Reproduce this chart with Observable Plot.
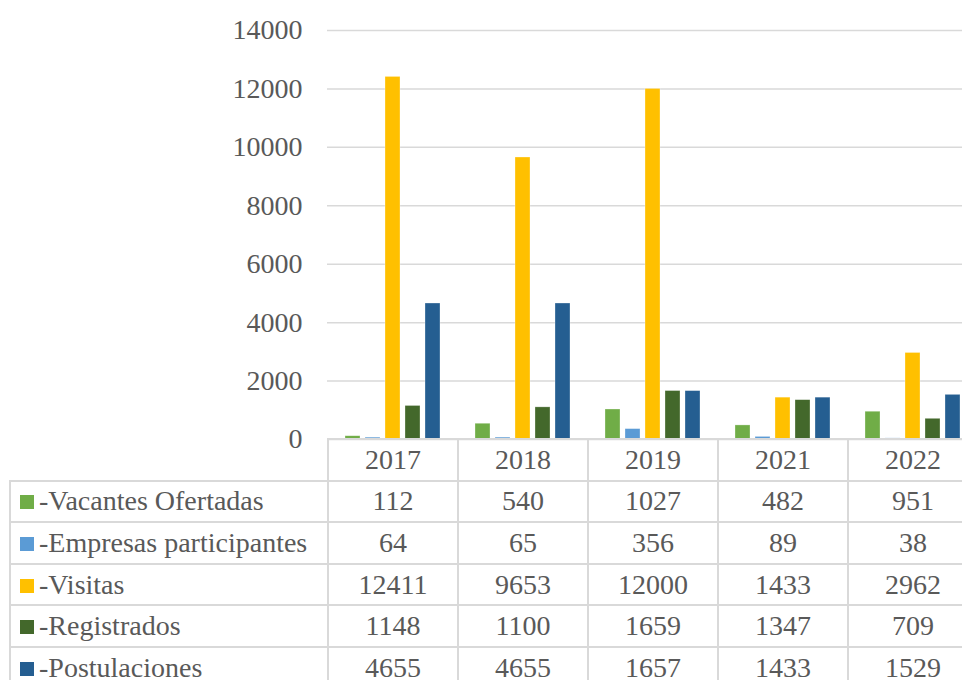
<!DOCTYPE html>
<html>
<head>
<meta charset="utf-8">
<script src="https://cdn.jsdelivr.net/npm/d3@7"></script>
<script src="https://cdn.jsdelivr.net/npm/@observablehq/plot@0.6"></script>
<style>
  html, body { margin: 0; padding: 0; background: #fff; overflow: hidden; width: 962px; height: 680px; }
  #wrap { position: relative; width: 962px; height: 680px; overflow: hidden; }
  #chart { position: absolute; left: 0; top: 0; width: 977px; }
  #chart svg { max-width: none !important; }
  table { position: absolute; left: 9px; top: 438px; width: 968px; border-collapse: collapse;
          font-family: "Liberation Serif", Tinos, "Times New Roman", "DejaVu Serif", serif; font-size: 28px; color: #595959; table-layout: fixed; }
  tr { height: 41.6px; }
  td { border: 2px solid #D9D9D9; padding: 0; text-align: center; white-space: nowrap; line-height: 1; }
  td.lab { text-align: left; padding-left: 9px; }
  td.blank { border: none; border-bottom: 2px solid #D9D9D9; }
  .sw { display: inline-block; width: 14px; height: 14px; margin-right: 5px; vertical-align: 1px; }
</style>
</head>
<body>
<div id="wrap">
  <div id="chart"></div>
  <table id="tbl"></table>
</div>
<script>
const years = ["2017", "2018", "2019", "2021", "2022"];
const seriesNames = ["-Vacantes Ofertadas", "-Empresas participantes", "-Visitas", "-Registrados", "-Postulaciones"];
const seriesColors = ["#70AD47", "#5B9BD5", "#FFC000", "#43682B", "#255E91"];
const vacantes = [112, 540, 1027, 482, 951];
const empresas = [64, 65, 356, 89, 38];
const visitas = [12411, 9653, 12000, 1433, 2962];
const registrados = [1148, 1100, 1659, 1347, 709];
const postulaciones = [4655, 4655, 1657, 1433, 1529];
const yTicks = [0, 2000, 4000, 6000, 8000, 10000, 12000, 14000];

const seriesValues = [vacantes, empresas, visitas, registrados, postulaciones];
const data = [];
years.forEach((yr, i) => {
  seriesNames.forEach((s, j) => data.push({year: yr, series: s, value: seriesValues[j][i]}));
});

const serif = "'Liberation Serif', Tinos, 'Times New Roman', 'DejaVu Serif', serif";
const chart = Plot.plot({
  width: 977,
  height: 440,
  marginLeft: 327,
  marginRight: 0,
  marginTop: 30,
  marginBottom: 1,
  style: {fontFamily: serif, fontSize: "28px", color: "#595959", background: "white", overflow: "visible", maxWidth: "none"},
  fx: {domain: years, padding: 0, axis: null},
  x: {domain: seriesNames, paddingInner: 0.25, paddingOuter: 0.875, axis: null},
  y: {domain: [0, 14000], axis: null},
  color: {domain: seriesNames, range: seriesColors},
  marks: [
    Plot.ruleY(yTicks, {stroke: "#D9D9D9", strokeWidth: 1.5, facet: "exclude"}),
    Plot.barY(data, {fx: "year", x: "series", y: "value", fill: "series", stroke: "white", strokeOpacity: 0.5, strokeWidth: 0.6}),
    Plot.axisY({ticks: yTicks, tickSize: 0, tickPadding: 25, tickFormat: d => String(d), fill: "#595959", fontSize: 28, label: null, anchor: "left"})
  ]
});
document.getElementById("chart").appendChild(chart);

// data table below the chart
const tbl = document.getElementById("tbl");
const colg = document.createElement("colgroup");
const c0 = document.createElement("col"); c0.style.width = "318px"; colg.appendChild(c0);
years.forEach(() => { const c = document.createElement("col"); c.style.width = "130px"; colg.appendChild(c); });
tbl.appendChild(colg);
const hr = document.createElement("tr");
const h0 = document.createElement("td"); h0.className = "blank"; hr.appendChild(h0);
years.forEach(y => { const td = document.createElement("td"); td.textContent = y; hr.appendChild(td); });
tbl.appendChild(hr);
seriesNames.forEach((s, j) => {
  const tr = document.createElement("tr");
  const lab = document.createElement("td"); lab.className = "lab";
  const sw = document.createElement("span"); sw.className = "sw"; sw.style.background = seriesColors[j];
  lab.appendChild(sw); lab.appendChild(document.createTextNode(s));
  tr.appendChild(lab);
  seriesValues[j].forEach(v => { const td = document.createElement("td"); td.textContent = v; tr.appendChild(td); });
  tbl.appendChild(tr);
});
</script>
</body>
</html>
